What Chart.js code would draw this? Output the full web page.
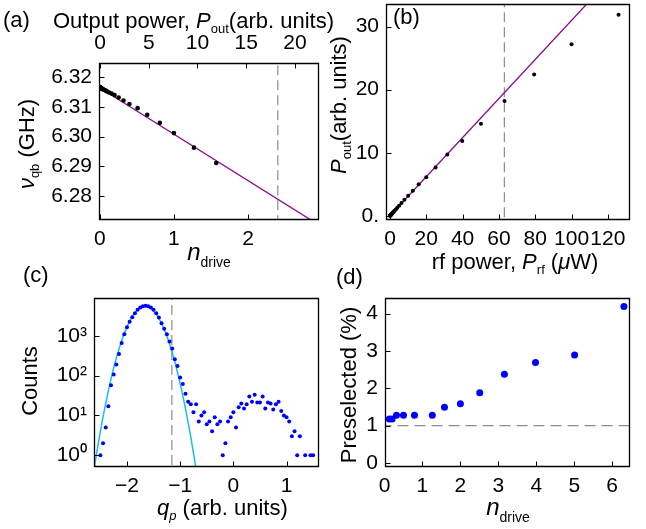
<!DOCTYPE html>
<html>
<head>
<meta charset="utf-8">
<script src="https://cdn.jsdelivr.net/npm/chart.js@4.4.1/dist/chart.umd.min.js"></script>
<style>
body{margin:0;background:#fff;}
#fig{position:relative;width:646px;height:529px;overflow:hidden;font-family:"Liberation Sans",Arial,sans-serif;color:#000;}
canvas{position:absolute;}
.t{position:absolute;white-space:nowrap;font-size:22px;line-height:1;}
.t sub{font-size:13px;vertical-align:-5px;line-height:0;}
.t .n{font-size:24px;}
.t sub.d{vertical-align:-7px;font-size:14px;}
.r{transform:translate(-50%,-50%) rotate(-90deg);}
.c{transform:translateX(-50%);}
</style>
</head>
<body>
<div id="fig">
<canvas id="ca" width="340" height="265" style="left:0;top:0"></canvas>
<canvas id="cb" width="323" height="265" style="left:323px;top:0"></canvas>
<canvas id="cc" width="323" height="264" style="left:0;top:265px"></canvas>
<canvas id="cd" width="323" height="264" style="left:323px;top:265px"></canvas>

<div class="t" style="left:3px;top:9px">(a)</div>
<div class="t" style="left:53px;top:10px">Output power, <i>P</i><sub>out</sub>(arb. units)</div>
<div class="t r" style="left:27px;top:144px"><i>ν</i><sub>qb</sub> (GHz)</div>
<div class="t c" style="left:209px;top:240px"><i class="n">n</i><sub class="d">drive</sub></div>

<div class="t" style="left:393px;top:6px">(b)</div>
<div class="t r" style="left:339px;top:105px"><i>P</i><sub>out</sub>(arb. units)</div>
<div class="t c" style="left:515px;top:251px">rf power, <i>P</i><sub>rf</sub> (<i>μ</i>W)</div>

<div class="t" style="left:23px;top:264px">(c)</div>
<div class="t r" style="left:30px;top:381px">Counts</div>
<div class="t" style="left:157px;top:497px"><i>q</i><sub><i>p</i></sub> (arb. units)</div>

<div class="t" style="left:336px;top:266px">(d)</div>
<div class="t r" style="left:349px;top:385px">Preselected (%)</div>
<div class="t c" style="left:508px;top:495px"><i class="n">n</i><sub class="d">drive</sub></div>
</div>

<script>
// (a) qubit frequency vs drive photon number
const aN=[0,0.001,0.0013,0.0016,0.002,0.0025,0.0032,0.004,0.005,0.0063,0.008,0.01,0.0126,0.016,0.02,0.025,0.032,0.04,0.05,0.063,0.08,0.1,0.127,0.16,0.2,0.255,0.32,0.40,0.51,0.64,0.81,1.0,1.27,1.57];
const aNu=[6.3167,6.3167,6.3167,6.3167,6.3166,6.3166,6.3166,6.3166,6.3166,6.3165,6.3165,6.3165,6.3164,6.3164,6.3163,6.3162,6.3161,6.3160,6.3159,6.3157,6.3155,6.3152,6.3149,6.3145,6.3140,6.3132,6.3122,6.3110,6.3096,6.3074,6.3047,6.3012,6.2963,6.2911];
const aFitN=[0,3.0];
const aFitNu=[6.3165,6.2695];
const aDashN=2.4;
const aTicksN=[0,1,2];
const aTicksNu=[6.28,6.29,6.30,6.31,6.32];
const aTicksPout=[0,5,10,15,20];

// (b) output power vs rf power
const bPrf=[0,0.1,0.13,0.16,0.2,0.25,0.32,0.4,0.5,0.63,0.79,1.0,1.26,1.58,2.0,2.51,3.16,3.98,5.01,6.31,7.94,10,12.6,15.8,20,25.1,31.6,39.8,50.1,63.1,79.4,100,125.9];
const bPout=[0,0.03,0.04,0.05,0.06,0.08,0.1,0.13,0.16,0.2,0.25,0.32,0.4,0.5,0.63,0.79,1.0,1.26,1.58,2.0,2.55,3.16,3.95,5.0,6.1,7.65,9.7,11.85,14.6,18.2,22.4,27.2,31.9];
const bFitPrf=[0,120];
const bFitPout=[0,37.2];
const bDashPrf=63;
const bTicksPrf=[0,20,40,60,80,100,120];
const bTicksPout=[0,10,20,30];

// (c) histogram of q_p
const cQ=[-2.50,-2.45,-2.40,-2.35,-2.30,-2.25,-2.20,-2.15,-2.10,-2.05,-2.00,-1.95,-1.90,-1.85,-1.80,-1.75,-1.70,-1.65,-1.60,-1.55,-1.50,-1.45,-1.40,-1.35,-1.30,-1.25,-1.20,-1.15,-1.10,-1.05,-1.00,-0.95,-0.90,-0.85,-0.80,-0.75,-0.70,-0.65,-0.60,-0.55,-0.50,-0.45,-0.40,-0.35,-0.30,-0.25,-0.20,-0.15,-0.10,-0.05,0.00,0.05,0.10,0.15,0.20,0.25,0.30,0.35,0.40,0.45,0.50,0.55,0.60,0.65,0.70,0.75,0.80,0.85,0.90,0.95,1.00,1.05,1.10,1.15,1.20,1.25,1.35,1.45,1.50];
const cCounts=[1,2,5,17,57,107,190,347,660,1100,1640,2240,2940,3700,4490,5130,5560,5660,5560,5130,4490,3700,2870,2070,1510,1100,716,479,257,175,90,62,35,22,19,12,19,7,10,12,6,7,4,9,6,7,1,2,7,9,12,5,16,20,15,19,30,22,33,21,21,30,15,21,20,14,19,22,13,10,9,7,3,4,1,3,1,1,1];
const cFitQ=[-2.66,-2.61,-2.5,-2.4,-2.3,-2.2,-2.1,-2.0,-1.9,-1.8,-1.7,-1.6,-1.5,-1.4,-1.3,-1.2,-1.1,-1.0,-0.9,-0.8,-0.71,-0.66];
const cFitCounts=[0.19,0.53,4.0,20,83,277,756,1680,3050,4500,5410,5300,4230,2750,1460,629,221,63,14.8,2.8,0.53,0.19];
const cDashQ=-1.156;
const cTicksQ=[-2,-1,0,1];
const cTicksCounts=[1,10,100,1000];
const cTickLabels=['10\u2070','10\u00b9','10\u00b2','10\u00b3'];

// (d) preselected fraction vs drive
const dN=[0.126,0.2,0.316,0.5,0.79,1.26,1.58,2.0,2.51,3.16,3.98,5.01,6.31];
const dPre=[1.18,1.18,1.28,1.28,1.28,1.28,1.49,1.59,1.88,2.38,2.69,2.89,4.19];
const dRef=1;
const dTicksN=[0,1,2,3,4,5,6];
const dTicksPre=[0,1,2,3,4];

Chart.defaults.font.family='"Liberation Sans", Arial, sans-serif';

const pts=(xs,ys)=>xs.map((x,i)=>({x:x,y:ys[i]}));
const minus=v=>String(v).replace('-','\u2212');

function axis(position,min,max,ticks,size,fmt,type){
 return {type:type||'linear',position:position,min:min,max:max,
  afterBuildTicks:s=>{s.ticks=ticks.map(v=>({value:v}));},
  afterFit:s=>{
   if(s.isHorizontal())s.height=size;else s.width=size;
   s.paddingTop=0;s.paddingBottom=0;s.paddingLeft=0;s.paddingRight=0;
  },
  grid:{display:false,drawTicks:false},border:{display:false},
  ticks:{font:{size:21},color:'#000',padding:7,autoSkip:false,maxRotation:0,callback:fmt||(v=>String(v))}};
}

// frame plus inward ticks on an overlay canvas above each chart
function drawFrame(ch){
 const src=ch.canvas,ov=document.createElement('canvas');
 ov.width=src.width;ov.height=src.height;
 ov.style.left=src.style.left;ov.style.top=src.style.top;
 src.parentNode.insertBefore(ov,src.nextSibling);
 const a=ch.chartArea,c=ov.getContext('2d');
 const l=Math.round(a.left)+0.5,tp=Math.round(a.top)+0.5,r=Math.round(a.right)-0.5,b=Math.round(a.bottom)-0.5;
 c.strokeStyle='#000';c.lineWidth=1.3;
 c.beginPath();
 c.moveTo(l,tp);c.lineTo(r,tp);c.lineTo(r,b);c.lineTo(l,b);c.closePath();
 c.stroke();
 c.lineWidth=1;
 c.beginPath();
 Object.values(ch.scales).forEach(s=>{
  s.ticks.forEach(t=>{
   const p=Math.round(s.getPixelForValue(t.value))+0.5;
   if(s.position==='left'){c.moveTo(l,p);c.lineTo(l+5,p);}
   else if(s.position==='bottom'){c.moveTo(p,b);c.lineTo(p,b-5);}
   else if(s.position==='top'){c.moveTo(p,tp);c.lineTo(p,tp+5);}
  });
 });
 c.stroke();
}

const base=(pad)=>({responsive:false,animation:false,devicePixelRatio:1,events:[],
 layout:{padding:pad},plugins:{legend:{display:false},tooltip:{enabled:false}}});

const dash=(data,color,d)=>({data:data,showLine:true,borderColor:color,borderWidth:1.2,borderDash:d,pointRadius:0,fill:false});

const charts=[];
// (a)
charts.push(new Chart(document.getElementById('ca'),{type:'scatter',
 data:{datasets:[
  {data:pts(aN,aNu),backgroundColor:'#000',borderColor:'#000',pointRadius:2.3,pointBorderWidth:0},
  {data:pts(aFitN,aFitNu),showLine:true,borderColor:'#8a0a8a',borderWidth:1.3,pointRadius:0},
  dash([{x:aDashN,y:6.26},{x:aDashN,y:6.34}],'#8c8c8c',[10,5])
 ]},
 options:Object.assign(base({top:0,right:21,left:0,bottom:0}),{scales:{
  x:axis('bottom',-0.01,2.955,aTicksN,45),
  x2:axis('top',-0.1,22.46,aTicksPout,63),
  y:axis('left',6.27191,6.32482,aTicksNu,99,v=>v.toFixed(2))
 }})}));

// (b)
charts.push(new Chart(document.getElementById('cb'),{type:'scatter',
 data:{datasets:[
  {data:pts(bPrf,bPout),backgroundColor:'#000',borderColor:'#000',pointRadius:2,pointBorderWidth:0},
  {data:pts(bFitPrf,bFitPout),showLine:true,borderColor:'#8a0a8a',borderWidth:1.3,pointRadius:0},
  dash([{x:bDashPrf,y:-5},{x:bDashPrf,y:40}],'#8c8c8c',[10,5])
 ]},
 options:Object.assign(base({top:3,right:16,left:0,bottom:0}),{scales:{
  x:axis('bottom',-2.2,132.2,bTicksPrf,45),
  y:axis('left',-0.68,33.6,bTicksPout,63,v=>v===0?'0.':String(v))
 }})}));

// (c)
charts.push(new Chart(document.getElementById('cc'),{type:'scatter',
 data:{datasets:[
  {data:pts(cQ,cCounts),backgroundColor:'#0000ff',borderColor:'#0000ff',pointRadius:2,pointBorderWidth:0},
  {data:pts(cFitQ,cFitCounts),showLine:true,tension:0.4,borderColor:'#18bdec',borderWidth:1.5,pointRadius:0},
  dash([{x:cDashQ,y:0.1},{x:cDashQ,y:100000}],'#8c8c8c',[10,5])
 ]},
 options:Object.assign(base({top:33,right:4,left:0,bottom:0}),{scales:{
  x:axis('bottom',-2.62,1.61,cTicksQ,62,minus),
  y:axis('left',0.507,8900,cTicksCounts,94,(v)=>cTickLabels[cTicksCounts.indexOf(v)],'logarithmic')
 }})}));

// (d)
charts.push(new Chart(document.getElementById('cd'),{type:'scatter',
 data:{datasets:[
  {data:pts(dN,dPre),backgroundColor:'#0000ff',borderColor:'#0000ff',pointRadius:3.5,pointBorderWidth:0},
  dash([{x:-1,y:dRef},{x:8,y:dRef}],'#8c8c8c',[11,6])
 ]},
 options:Object.assign(base({top:33,right:16,left:0,bottom:0}),{scales:{
  x:axis('bottom',0.013,6.47,dTicksN,62),
  y:axis('left',-0.108,4.42,dTicksPre,62)
 }})}));

charts.forEach(drawFrame);
</script>
</body>
</html>
